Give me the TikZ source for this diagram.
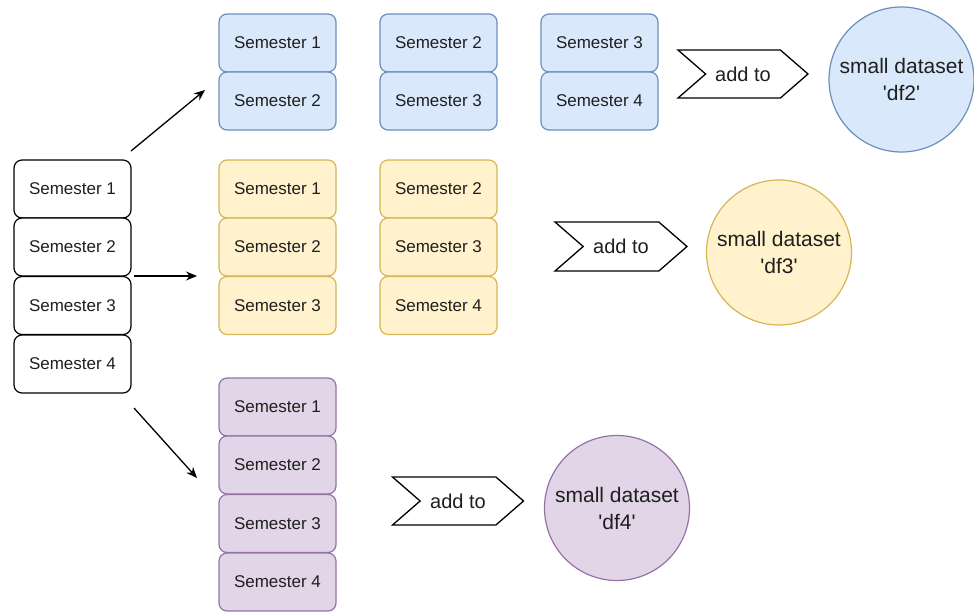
\documentclass[tikz,border=0pt]{standalone}
\usepackage{fontspec}
\setmainfont{Liberation Sans}
\usetikzlibrary{arrows.meta,shapes.symbols}

\definecolor{blueF}{HTML}{DAE8FC}\definecolor{blueD}{HTML}{6C8EBF}
\definecolor{yelF}{HTML}{FFF2CC}\definecolor{yelD}{HTML}{D6B656}
\definecolor{purF}{HTML}{E1D5E7}\definecolor{purD}{HTML}{9673A6}
\definecolor{ink}{HTML}{1F1F1F}

\newcommand{\sq}{\textquotesingle}

\tikzset{
  sem/.style={draw, rounded corners=8pt, minimum width=117pt, minimum height=58pt,
    inner sep=0pt, outer sep=0pt, line width=1.2pt, text=ink,
    font=\fontsize{17}{20}\selectfont},
  plain/.style={sem, fill=white, draw=black},
  bluebox/.style={sem, fill=blueF, draw=blueD},
  yelbox/.style={sem, fill=yelF, draw=yelD},
  purbox/.style={sem, fill=purF, draw=purD},
  addto/.style={signal, signal to=east, signal from=west, signal pointer angle=82,
    draw=black, fill=white, line width=1.3pt, minimum width=130pt, minimum height=48pt,
    inner sep=0pt, outer sep=0pt, text=ink, font=\fontsize{20}{24}\selectfont},
  dataset/.style={circle, minimum size=145pt, inner sep=0pt, line width=1.2pt,
    align=center, text=ink, font=\fontsize{21}{27}\selectfont},
  link/.style={-{Stealth[length=11pt,width=9pt]}, line width=1.3pt, black}
}

\begin{document}
\begin{tikzpicture}[x=1pt,y=-1pt]
\useasboundingbox[fill=white] (0,0) rectangle (974,611);

% full four-semester column on the left
\node[plain] (L1) at (72.5,189)   {Semester 1};
\node[plain] (L2) at (72.5,247)   {Semester 2};
\node[plain] (L3) at (72.5,305.5) {Semester 3};
\node[plain] (L4) at (72.5,364)   {Semester 4};

% windows of two semesters
\node[bluebox] (B11) at (277.5,43)  {Semester 1};
\node[bluebox] (B12) at (277.5,101) {Semester 2};
\node[bluebox] (B21) at (438.5,43)  {Semester 2};
\node[bluebox] (B22) at (438.5,101) {Semester 3};
\node[bluebox] (B31) at (599.5,43)  {Semester 3};
\node[bluebox] (B32) at (599.5,101) {Semester 4};
\node[addto]   (BA)  at (743,74)    {add to};
\node[dataset, fill=blueF, draw=blueD] (BD) at (901.5,79.5) {small dataset\\\sq df2\sq};

% windows of three semesters
\node[yelbox] (Y11) at (277.5,189)   {Semester 1};
\node[yelbox] (Y12) at (277.5,247)   {Semester 2};
\node[yelbox] (Y13) at (277.5,305.5) {Semester 3};
\node[yelbox] (Y21) at (438.5,189)   {Semester 2};
\node[yelbox] (Y22) at (438.5,247)   {Semester 3};
\node[yelbox] (Y23) at (438.5,305.5) {Semester 4};
\node[addto, minimum width=132pt, minimum height=49pt] (YA) at (621,246.5) {add to};
\node[dataset, fill=yelF, draw=yelD] (YD) at (779,252.5) {small dataset\\\sq df3\sq};

% window of four semesters
\node[purbox] (P1) at (277.5,407)   {Semester 1};
\node[purbox] (P2) at (277.5,465)   {Semester 2};
\node[purbox] (P3) at (277.5,523.5) {Semester 3};
\node[purbox] (P4) at (277.5,582)   {Semester 4};
\node[addto, minimum width=131pt] (PA) at (458,501) {add to};
\node[dataset, fill=purF, draw=purD] (PD) at (617,508) {small dataset\\\sq df4\sq};

% connectors
\draw[link] ([yshift=9pt]L1.north east) -- ([xshift=-14pt,yshift=11pt]B12.west);
\draw[link] ([xshift=3pt]L2.south east) -- ([xshift=-22pt]Y12.south west);
\draw[link] ([xshift=3pt,yshift=-15pt]L4.south east) -- ([xshift=-22pt,yshift=16pt]P2.south west);
\end{tikzpicture}
\end{document}
